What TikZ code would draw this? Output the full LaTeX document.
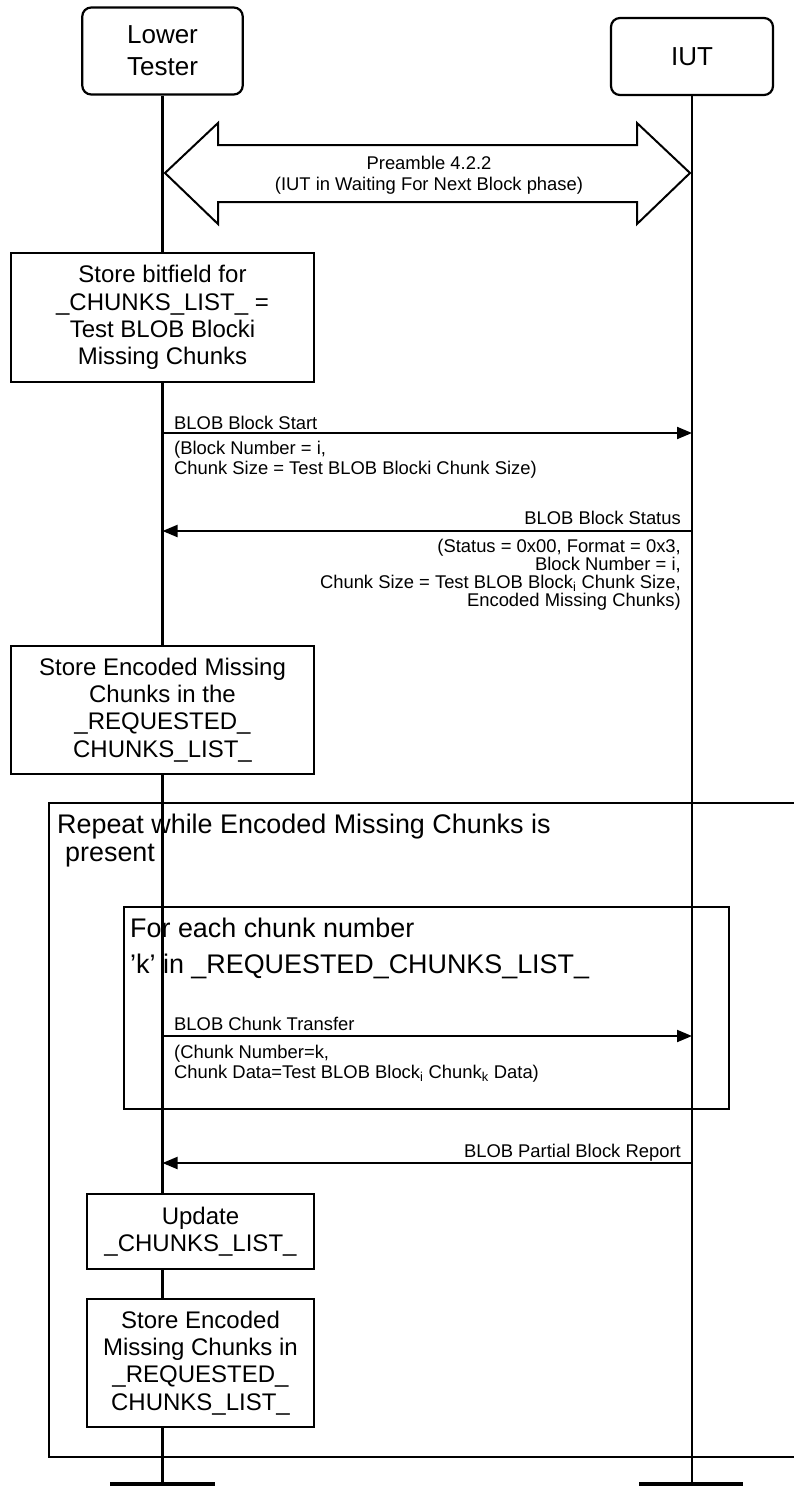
\documentclass[tikz,border=0pt]{standalone}
\usepackage{fontspec}
\setmainfont{Liberation Sans}
\usetikzlibrary{arrows.meta}
\begin{document}
\begin{tikzpicture}[x=1pt,y=-1pt,
  actor/.style={draw, line width=2.2pt, rounded corners=9pt, fill=white, font=\fontsize{26}{32}\selectfont, align=center, inner sep=0pt},
  act/.style={draw, line width=2.4pt, fill=white, font=\fontsize{24}{27.3}\selectfont, align=center, inner sep=0pt},
  msg/.style={-{Triangle[length=15pt,width=12pt]}, line width=2pt},
  mtxt/.style={font=\fontsize{18.4}{20}\selectfont, inner sep=0pt},
  frm/.style={draw, line width=2.4pt, inner sep=0pt},
  ftxt/.style={font=\fontsize{26.9}{28}\selectfont, inner sep=0pt},
  lifeline/.style={line width=2.2pt},
  preamble/.style={draw, line width=2pt, fill=white, line join=miter},
  endbar/.style={fill=black}
]
\useasboundingbox (0,0) rectangle (794,1486);
\fill[white] (0,0) rectangle (794,1486);

% actors
\node[actor, minimum width=160.5pt, minimum height=87pt] (lt) at (162.5,51) {Lower\\Tester};
\node[actor, minimum width=162pt, minimum height=77pt] (iut) at (692,56.5) {IUT};
\coordinate (ltend) at (162.5,1486);
\coordinate (iutend) at (692,1486);

% lifelines
\draw[lifeline] (lt.south) -- (ltend);
\draw[lifeline] (iut.south) -- (iutend);

% end bars
\fill[endbar] (110,1482) rectangle (215,1492);
\fill[endbar] (639,1482) rectangle (743,1492);

% preamble double arrow
\draw[preamble] (165,173) -- (218,123) -- (218,145) -- (637,145) -- (637,123) -- (690,173)
  -- (637,224) -- (637,202) -- (218,202) -- (218,224) -- cycle;
\node[mtxt, align=center, font=\fontsize{18.4}{20.5}\selectfont] (pre) at (429,175) {Preamble 4.2.2\\(IUT in Waiting For Next Block phase)};

% action boxes
\node[act, minimum width=303pt, minimum height=129pt] (s1) at (162.5,317.5)
  {Store bitfield for\\\_CHUNKS\_LIST\_ =\\Test BLOB Blocki\\Missing Chunks};
\node[act, minimum width=303pt, minimum height=128pt] (s2) at (162.5,710)
  {Store Encoded Missing\\Chunks in the\\\_REQUESTED\_\\CHUNKS\_LIST\_};
\node[act, minimum width=227pt, minimum height=75pt] (s3) at (200.5,1231.5)
  {Update\\\_CHUNKS\_LIST\_};
\node[act, minimum width=227pt, minimum height=128pt] (s4) at (200.5,1363)
  {Store Encoded\\Missing Chunks in\\\_REQUESTED\_\\CHUNKS\_LIST\_};

% message 1
\coordinate (m1a) at (162.5,433);
\coordinate (m1b) at (692,433);
\draw[msg] (m1a) -- (m1b);
\node[mtxt, anchor=base west] (m1t) at (174,429) {BLOB Block Start};
\node[mtxt, anchor=base west] (m1p1) at (174,454) {(Block Number = i,};
\node[mtxt, anchor=base west] (m1p2) at (174,474) {Chunk Size = Test BLOB Blocki Chunk Size)};

% message 2
\coordinate (m2a) at (692,531);
\coordinate (m2b) at (162.5,531);
\draw[msg] (m2a) -- (m2b);
\node[mtxt, anchor=base east] (m2t) at (681,524) {BLOB Block Status};
\node[mtxt, anchor=base east] (m2p1) at (681,552) {(Status = 0x00, Format = 0x3,};
\node[mtxt, anchor=base east] (m2p2) at (681,570) {Block Number = i,};
\node[mtxt, anchor=base east] (m2p3) at (681,588) {Chunk Size = Test BLOB Block\textsubscript{i} Chunk Size,};
\node[mtxt, anchor=base east] (m2p4) at (681,606) {Encoded Missing Chunks)};

% outer loop frame
\node[frm, minimum width=771pt, minimum height=654pt] (outer) at (434.5,1130) {};
\node[ftxt, anchor=base west] (ot1) at (57,833) {Repeat while Encoded Missing Chunks is};
\node[ftxt, anchor=base west] (ot2) at (65,861) {present};

% inner loop frame
\node[frm, minimum width=605pt, minimum height=202pt] (inner) at (426.5,1008) {};
\node[ftxt, anchor=base west] (it1) at (130,937) {For each chunk number};
\node[ftxt, anchor=base west] (it2) at (130,973) {’k’ in \_REQUESTED\_CHUNKS\_LIST\_};

% message 3
\coordinate (m3a) at (162.5,1036);
\coordinate (m3b) at (692,1036);
\draw[msg] (m3a) -- (m3b);
\node[mtxt, anchor=base west] (m3t) at (174,1030) {BLOB Chunk Transfer};
\node[mtxt, anchor=base west] (m3p1) at (174,1058) {(Chunk Number=k,};
\node[mtxt, anchor=base west] (m3p2) at (174,1078) {Chunk Data=Test BLOB Block\textsubscript{i} Chunk\textsubscript{k} Data)};

% message 4
\coordinate (m4a) at (692,1163);
\coordinate (m4b) at (162.5,1163);
\draw[msg] (m4a) -- (m4b);
\node[mtxt, anchor=base east] (m4t) at (681,1157) {BLOB Partial Block Report};
\end{tikzpicture}
\end{document}
